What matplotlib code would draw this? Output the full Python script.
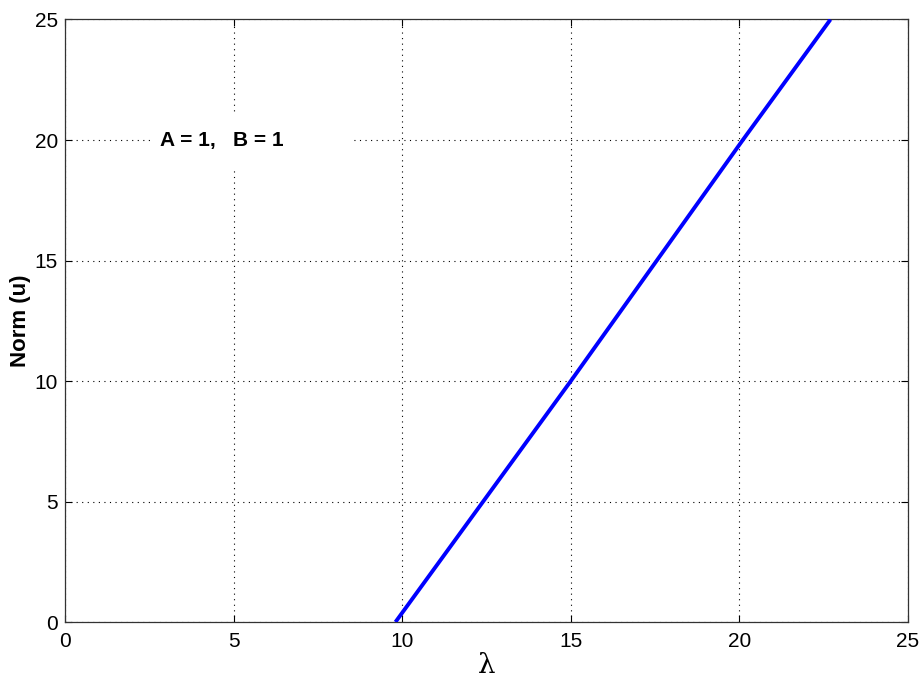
import matplotlib
matplotlib.use("Agg")
import matplotlib.pyplot as plt
from matplotlib.patches import Rectangle

# values
lam = [9.8, 12.4, 15.0, 17.55, 20.1, 22.7]
norm_u = [0, 5, 10, 15, 20, 25]
ticks = [0, 5, 10, 15, 20, 25]

plt.rcParams['font.family'] = ['Liberation Sans', 'DejaVu Sans']

dpi = 100
fig = plt.figure(figsize=(921/dpi, 689/dpi), dpi=dpi)
ax = fig.add_axes([0.0706, 0.0972, 0.9153, 0.8745])

ax.plot(lam, norm_u, color='#0000ff', lw=2.8, solid_capstyle='butt', zorder=3)

ax.set_xlim(0, 25)
ax.set_ylim(0, 25)
ax.set_xticks(ticks)
ax.set_yticks(ticks)
ax.tick_params(direction='in', length=5, width=0.8, labelsize=15,
               top=True, right=True)
ax.tick_params(axis='x', pad=7)
ax.tick_params(axis='y', pad=5)
ax.grid(True, color='black', linestyle=(0, (1, 4)), linewidth=0.8)
for s in ax.spines.values():
    s.set_linewidth(0.9)
    s.set_color('#333333')

ax.set_xlabel('λ', fontsize=20, family=['DejaVu Serif'], labelpad=1)
ax.set_ylabel('Norm (u)', fontsize=16, fontweight='bold', labelpad=3)

# white background behind the annotation (hides the grid like the original)
ax.add_patch(Rectangle((0.101, 0.756), 0.237, 0.085, transform=ax.transAxes,
                       facecolor='white', edgecolor='none', zorder=2.5))
ax.text(2.82, 20, 'A = 1,   B = 1', fontsize=15, fontweight='bold',
        ha='left', va='center', zorder=4)

fig.savefig('out.png', dpi=dpi)
